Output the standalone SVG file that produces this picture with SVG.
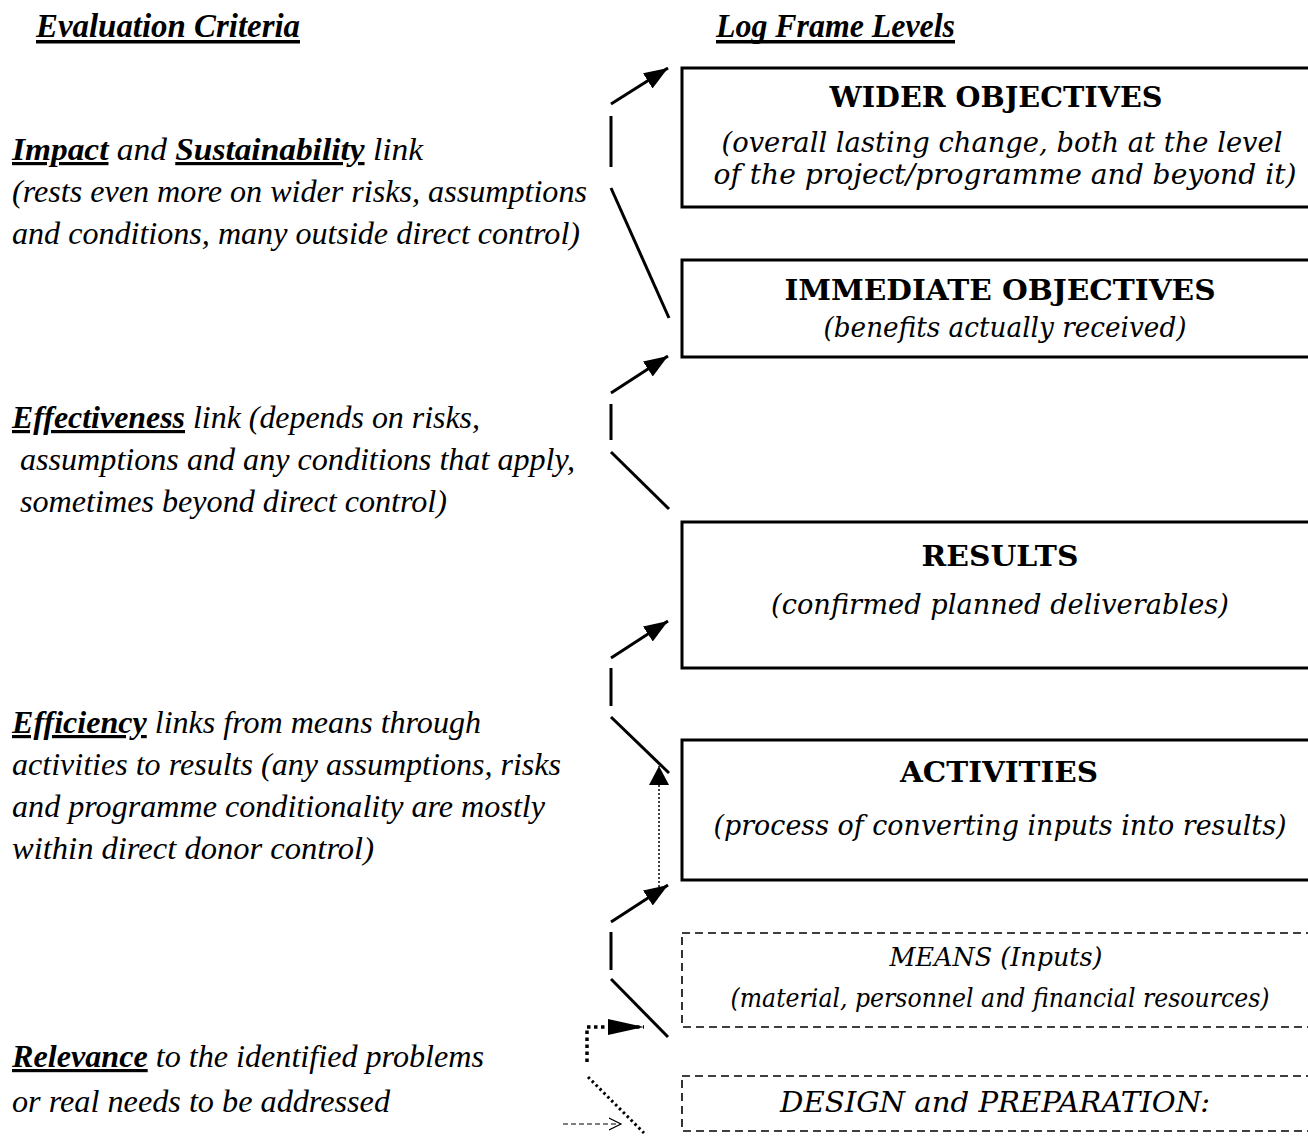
<svg xmlns="http://www.w3.org/2000/svg" width="1308" height="1144" viewBox="0 0 1308 1144">
<style>
.bg{fill:#fff}
.box{fill:#fff;stroke:#000;stroke-width:3}
.dbox{fill:#fff;stroke:#000;stroke-width:1.6;stroke-dasharray:8 5}
.ln{stroke:#000;stroke-width:3;fill:none;stroke-linecap:butt}
</style>
<defs>
<marker id="ah" markerUnits="userSpaceOnUse" markerWidth="26" markerHeight="20" refX="24" refY="9" orient="auto">
<path d="M0,0 L24,9 L0,18 Z" fill="#000"/>
</marker>
<marker id="ah2" markerUnits="userSpaceOnUse" markerWidth="22" markerHeight="22" refX="19" refY="10" orient="auto">
<path d="M0,0 L19,10 L0,20 Z" fill="#000"/>
</marker>
<marker id="ah3" markerUnits="userSpaceOnUse" markerWidth="38" markerHeight="18" refX="36" refY="8" orient="auto">
<path d="M0,0 L36,8 L0,16 Z" fill="#000"/>
</marker>
<marker id="open" markerUnits="userSpaceOnUse" markerWidth="14" markerHeight="14" refX="12" refY="7" orient="auto">
<path d="M0,1 L12,7 L0,13" fill="none" stroke="#000" stroke-width="1.2"/>
</marker>
</defs>
<rect class="bg" x="0" y="0" width="1308" height="1144"/>

<g id="headings" font-family="Liberation Serif" font-style="italic" font-weight="bold" font-size="33" fill="#000">
<text x="36" y="37" textLength="264" lengthAdjust="spacingAndGlyphs">Evaluation Criteria</text>
<rect x="36" y="40" width="264" height="3.5"/>
<text x="716" y="37" textLength="239" lengthAdjust="spacingAndGlyphs">Log Frame Levels</text>
<rect x="716" y="40" width="239" height="3.5"/>
</g>

<g id="criteria" font-family="Liberation Serif" font-style="italic" font-size="32" fill="#000">
<g id="criteria-impact">
<text x="12" y="160" textLength="411" lengthAdjust="spacingAndGlyphs"><tspan font-weight="bold" text-decoration="underline">Impact</tspan> and <tspan font-weight="bold" text-decoration="underline">Sustainability</tspan> link</text>
<text x="12" y="202" textLength="575" lengthAdjust="spacingAndGlyphs">(rests even more on wider risks, assumptions</text>
<text x="12" y="244" textLength="568" lengthAdjust="spacingAndGlyphs">and conditions, many outside direct control)</text>
</g>
<g id="criteria-effectiveness">
<text x="12" y="428" textLength="468" lengthAdjust="spacingAndGlyphs"><tspan font-weight="bold" text-decoration="underline">Effectiveness</tspan> link (depends on risks,</text>
<text x="20" y="470" textLength="555" lengthAdjust="spacingAndGlyphs">assumptions and any conditions that apply,</text>
<text x="20" y="512" textLength="427" lengthAdjust="spacingAndGlyphs">sometimes beyond direct control)</text>
</g>
<g id="criteria-efficiency">
<text x="12" y="733" textLength="469" lengthAdjust="spacingAndGlyphs"><tspan font-weight="bold" text-decoration="underline">Efficiency</tspan> links from means through</text>
<text x="12" y="775" textLength="549" lengthAdjust="spacingAndGlyphs">activities to results (any assumptions, risks</text>
<text x="12" y="817" textLength="533" lengthAdjust="spacingAndGlyphs">and programme conditionality are mostly</text>
<text x="12" y="859" textLength="362" lengthAdjust="spacingAndGlyphs">within direct donor control)</text>
</g>
<g id="criteria-relevance">
<text x="12" y="1067" textLength="472" lengthAdjust="spacingAndGlyphs"><tspan font-weight="bold" text-decoration="underline">Relevance</tspan> to the identified problems</text>
<text x="12" y="1112" textLength="378" lengthAdjust="spacingAndGlyphs">or real needs to be addressed</text>
</g>
</g>

<g id="levels" font-family="DejaVu Serif" fill="#000" text-anchor="middle">
<g id="wider-objectives">
<rect class="box" x="682" y="68" width="640" height="139"/>
<text x="996" y="107" font-weight="bold" font-size="28" textLength="333" lengthAdjust="spacingAndGlyphs">WIDER OBJECTIVES</text>
<text x="1002" y="152" font-style="italic" font-size="27" textLength="561" lengthAdjust="spacingAndGlyphs">(overall lasting change, both at the level</text>
<text x="1005" y="184" font-style="italic" font-size="27" textLength="583" lengthAdjust="spacingAndGlyphs">of the project/programme and beyond it)</text>
</g>
<g id="immediate-objectives">
<rect class="box" x="682" y="260" width="640" height="97"/>
<text x="1000" y="300" font-weight="bold" font-size="28" textLength="431" lengthAdjust="spacingAndGlyphs">IMMEDIATE OBJECTIVES</text>
<text x="1005" y="337" font-style="italic" font-size="27" textLength="363" lengthAdjust="spacingAndGlyphs">(benefits actually received)</text>
</g>
<g id="results">
<rect class="box" x="682" y="522" width="640" height="146"/>
<text x="1000" y="566" font-weight="bold" font-size="28" textLength="157" lengthAdjust="spacingAndGlyphs">RESULTS</text>
<text x="1000" y="614" font-style="italic" font-size="27" textLength="458" lengthAdjust="spacingAndGlyphs">(confirmed planned deliverables)</text>
</g>
<g id="activities">
<rect class="box" x="682" y="740" width="640" height="140"/>
<text x="999" y="782" font-weight="bold" font-size="28" textLength="198" lengthAdjust="spacingAndGlyphs">ACTIVITIES</text>
<text x="1000" y="835" font-style="italic" font-size="27" textLength="573" lengthAdjust="spacingAndGlyphs">(process of converting inputs into results)</text>
</g>
<g id="means">
<rect class="dbox" x="682" y="933" width="640" height="94"/>
<text x="996" y="966" font-style="italic" font-size="26" textLength="213" lengthAdjust="spacingAndGlyphs">MEANS (Inputs)</text>
<text x="1000" y="1007" font-style="italic" font-size="26" textLength="539" lengthAdjust="spacingAndGlyphs">(material, personnel and financial resources)</text>
</g>
<g id="design-preparation">
<rect class="dbox" x="682" y="1076" width="640" height="55"/>
<text x="995" y="1112" font-style="italic" font-size="27" textLength="430" lengthAdjust="spacingAndGlyphs">DESIGN and PREPARATION:</text>
</g>
</g>

<g id="connectors">
<line class="ln" x1="611" y1="104" x2="668" y2="68" marker-end="url(#ah)"/>
<line class="ln" x1="611" y1="116" x2="611" y2="167"/>
<line class="ln" x1="611" y1="188" x2="669" y2="318"/>

<line class="ln" x1="611" y1="393" x2="668" y2="356" marker-end="url(#ah)"/>
<line class="ln" x1="611" y1="404" x2="611" y2="440"/>
<line class="ln" x1="611" y1="452" x2="669" y2="509"/>

<line class="ln" x1="611" y1="658" x2="668" y2="621" marker-end="url(#ah)"/>
<line class="ln" x1="611" y1="668" x2="611" y2="706"/>
<line class="ln" x1="611" y1="717" x2="669" y2="773"/>

<line class="ln" x1="611" y1="922" x2="668" y2="885" marker-end="url(#ah)"/>
<line class="ln" x1="611" y1="932" x2="611" y2="970"/>
<line class="ln" x1="611" y1="979" x2="668" y2="1037"/>

<line x1="659" y1="887" x2="659" y2="766" stroke="#444" stroke-width="2" stroke-dasharray="2 2" marker-end="url(#ah2)"/>
<path d="M587,1062 V1027 H644" fill="none" stroke="#000" stroke-width="3.5" stroke-dasharray="3.5 3.5" marker-end="url(#ah3)"/>
<line x1="588" y1="1077" x2="644" y2="1133" stroke="#000" stroke-width="3" stroke-dasharray="2.5 3"/>
<line x1="563" y1="1124" x2="621" y2="1124" stroke="#000" stroke-width="1.2" stroke-dasharray="5 3" marker-end="url(#open)"/>
</g>
</svg>
